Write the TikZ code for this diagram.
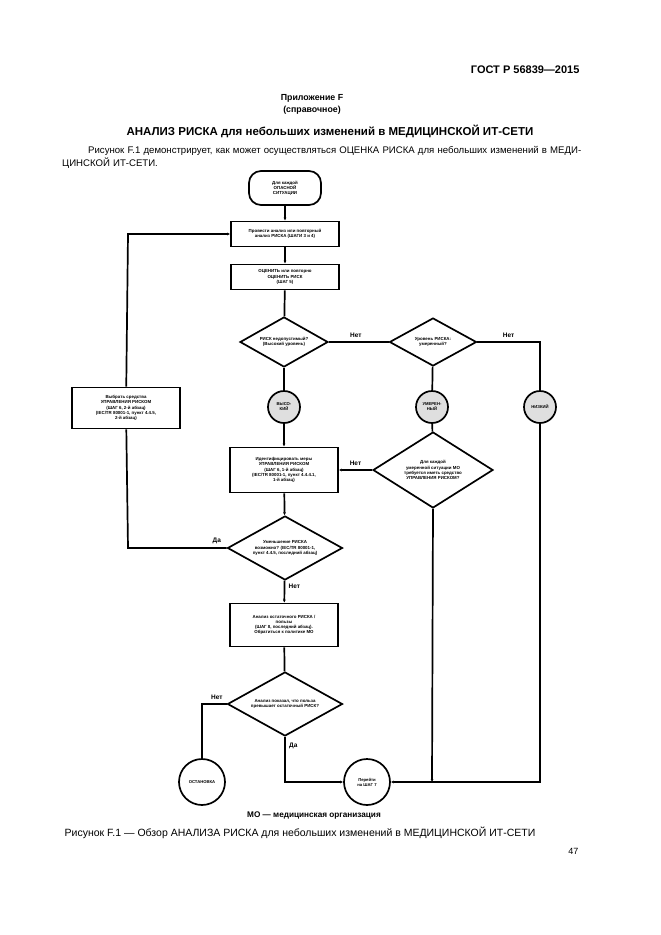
\documentclass[tikz,border=0pt]{standalone}
\usepackage{fontspec}
\setmainfont{Liberation Sans}
\usetikzlibrary{shapes.geometric,arrows.meta}
\begin{document}
\begin{tikzpicture}[x=1pt,y=-1pt,
 ln/.style={line width=1.7pt},
 arr/.style={ln,-{Latex[length=3pt,width=3pt]}},
 box/.style={draw,line width=1.7pt,minimum width=108pt,align=center,font=\fontsize{4.4}{5.2}\selectfont\bfseries,inner sep=1pt},
 dia/.style={draw,line width=1.7pt,diamond,aspect=1.6,align=center,font=\fontsize{4.4}{5.2}\selectfont\bfseries,inner sep=0pt},
 circ/.style={draw,line width=1.7pt,circle,align=center,font=\fontsize{4.2}{5}\selectfont\bfseries,inner sep=0pt},
 lbl/.style={font=\fontsize{6.5}{7}\selectfont\bfseries}]
\useasboundingbox (0,0) rectangle (661,935);
\node[anchor=east,font=\fontsize{11}{13}\selectfont\bfseries] (hdr) at (583,70) {ГОСТ Р 56839—2015};
\node[font=\fontsize{8.8}{12}\selectfont\bfseries,align=center] (app) at (312,104) {Приложение F\\(справочное)};
\node[font=\fontsize{11.5}{13}\selectfont\bfseries] (ttl) at (330,131) {АНАЛИЗ РИСКА для небольших изменений в МЕДИЦИНСКОЙ ИТ-СЕТИ};
\node[anchor=north west,font=\fontsize{9.6}{13}\selectfont,text width=530pt,align=left,inner sep=0pt] (par) at (62,146) {\hspace*{26pt}Рисунок F.1 демонстрирует, как может осуществляться ОЦЕНКА РИСКА для небольших изменений в МЕДИ-\\ЦИНСКОЙ ИТ-СЕТИ.};

\node[draw,line width=1.7pt,rounded corners=12pt,minimum width=72pt,minimum height=34pt,align=center,font=\fontsize{4.4}{5.2}\selectfont\bfseries] (st) at (285,188) {Для каждой\\ОПАСНОЙ\\СИТУАЦИИ};
\node[box,minimum height=25pt] (b1) at (285,234) {Провести анализ или повторный\\анализ РИСКА (ШАГИ 3 и 4)};
\node[box,minimum height=25pt] (b2) at (285,277) {ОЦЕНИТЬ или повторно\\ОЦЕНИТЬ РИСК\\(ШАГ 5)};
\node[dia,minimum width=88pt,minimum height=50pt] (d1) at (284,342) {РИСК недопустимый?\\(Высокий уровень)};
\node[dia,minimum width=87pt,minimum height=48pt] (d2) at (433,342) {Уровень РИСКА:\\умеренный?};
\node[circ,fill=gray!25,minimum size=32pt] (c1) at (284,407) {ВЫСО-\\КИЙ};
\node[circ,fill=gray!25,minimum size=32pt] (c2) at (432,407) {УМЕРЕН-\\НЫЙ};
\node[circ,fill=gray!25,minimum size=32pt] (c3) at (540,407) {НИЗКИЙ};
\node[box,minimum height=41pt] (lb) at (126,408) {Выбрать средства\\УПРАВЛЕНИЯ РИСКОМ\\(ШАГ 6, 2-й абзац)\\(IEC/TR 80001-1, пункт 4.4.5,\\2-й абзац)};
\node[box,minimum height=45pt] (b3) at (284,470) {Идентифицировать меры\\УПРАВЛЕНИЯ РИСКОМ\\(ШАГ 6, 1-й абзац)\\(IEC/TR 80001-1, пункт 4.4.4.1,\\1-й абзац)};
\node[dia,minimum width=120pt,minimum height=76pt] (d3) at (433,470) {Для каждой\\умеренной ситуации МО\\требуется иметь средство\\УПРАВЛЕНИЯ РИСКОМ?};
\node[dia,minimum width=115pt,minimum height=64pt] (d4) at (285,548) {Уменьшение РИСКА\\возможно? (IEC/TR 80001-1,\\пункт 4.4.5, последний абзац)};
\node[box,minimum height=43pt] (b4) at (284,625) {Анализ остаточного РИСКА /\\пользы\\(ШАГ 8, последний абзац).\\Обратиться к политике МО};
\node[dia,minimum width=115pt,minimum height=64pt] (d5) at (285,704) {Анализ показал, что польза\\превышает остаточный РИСК?};
\node[circ,minimum size=46pt] (stop) at (202,782) {ОСТАНОВКА};
\node[circ,minimum size=46pt] (go) at (367,782) {Перейти\\на ШАГ 7};
\coordinate (j1) at (432,782);
\coordinate (j2) at (540,782);
\coordinate (l1) at (128,548);
\coordinate (l2) at (128,234);
\coordinate (s1) at (202,704);

\draw[arr] (st) -- (b1);
\draw[arr] (b1) -- (b2);
\draw[ln] (b2) -- (d1);
\draw[ln] (d1) -- (c1);
\draw[arr] (c1) -- (b3);
\draw[ln] (d1.east) -- node[lbl,above,pos=0.45]{Нет} (d2.west);
\draw[ln] (d2) -- (c2);
\draw[ln] (c2) -- (d3);
\draw[ln] (d2.east) -- node[lbl,above,pos=0.5]{Нет} (c3.north |- d2.east) -- (c3);
\draw[arr] (d3.west) -- node[lbl,above]{Нет} (b3.east);
\draw[arr] (b3) -- (d4);
\draw[ln] (d4.west) -- node[lbl,above,pos=0.1]{Да} (l1) -- (lb);
\draw[arr] (lb) -- (l2) -- (b1.west);
\draw[arr] (d4) -- node[lbl,right,pos=0.25]{Нет} (b4);
\draw[ln] (b4) -- (d5);
\draw[ln] (d5.west) -- node[lbl,above,pos=0.4]{Нет} (s1) -- (stop);
\draw[arr] (d5.south) -- node[lbl,right,pos=0.2]{Да} (d5.south |- go.west) -- (go.west);
\draw[arr] (d3.south) -- (j1);
\draw[ln] (c3) -- (j2) -- (j1);
\draw[arr] (j1) -- (go.east);

\node[font=\fontsize{8.2}{10}\selectfont\bfseries] (mo) at (314,815) {МО — медицинская организация};
\node[font=\fontsize{10.5}{12}\selectfont] (cap) at (300,833) {Рисунок F.1 — Обзор АНАЛИЗА РИСКА для небольших изменений в МЕДИЦИНСКОЙ ИТ-СЕТИ};
\node[anchor=east,font=\fontsize{9}{10}\selectfont] (pg) at (582,851) {47};
\end{tikzpicture}
\end{document}
